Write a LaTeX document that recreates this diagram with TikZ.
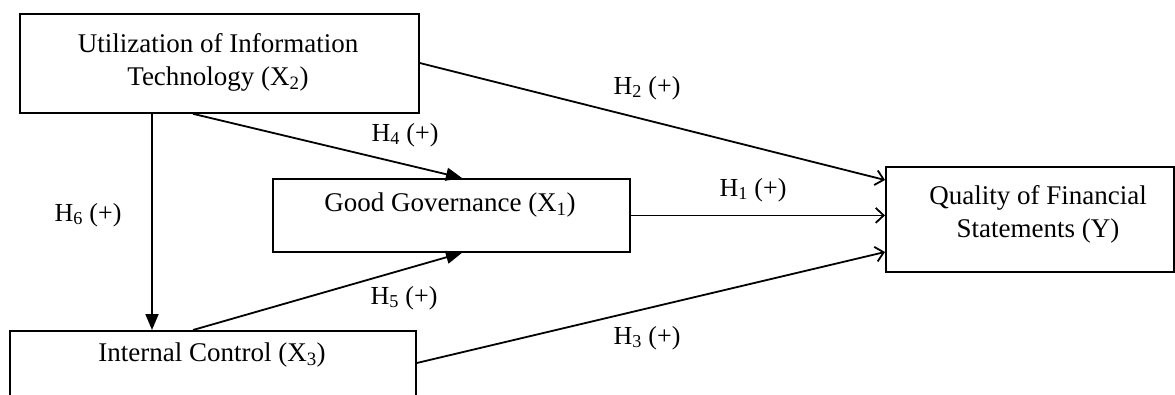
\documentclass[tikz,border=0pt]{standalone}
\usepackage{fontspec}
\setmainfont{Liberation Serif}
\usetikzlibrary{arrows.meta,calc}
\tikzset{
  box/.style={draw, line width=1.8pt, inner sep=0pt, anchor=north west, align=center,
    font=\fontsize{27}{33}\selectfont},
  txt/.style={inner sep=0pt, font=\fontsize{27}{33}\selectfont, align=center},
  hyp/.style={inner sep=0pt, font=\fontsize{26}{30}\selectfont},
  solidarrow/.style={line width=1.8pt, -{Triangle[length=16pt,width=13pt]}},
  openarrow/.style={line width=1.8pt, -{Straight Barb[length=8pt,width=15pt,line width=1.8pt]}}
}
\begin{document}
\begin{tikzpicture}[x=1pt,y=-1pt]
\useasboundingbox (0,0) rectangle (1175,394);
\clip (0,0) rectangle (1175,394);
\fill[white] (0,0) rectangle (1175,394);
% boxes
\node[box, minimum width=399pt, minimum height=99pt] (x2) at (19,13) {};
\node[txt] (x2t) at (218,62) {Utilization of Information\\Technology (X\textsubscript{2})};
\node[box, minimum width=357pt, minimum height=73pt] (x1) at (272,178) {};
\node[txt] (x1t) at (450,205) {Good Governance (X\textsubscript{1})};
\node[box, minimum width=288pt, minimum height=105pt] (y) at (885,166) {};
\node[txt] (yt) at (1038,214) {Quality of Financial\\Statements (Y)};
\node[box, minimum width=406pt, minimum height=120pt] (x3) at (9,330) {};
\node[txt] (x3t) at (212,355) {Internal Control (X\textsubscript{3})};
% connectors
\draw[solidarrow] ($(x2.south west)+(133,0)$) -- ($(x3.north west)+(143,0)$);
\draw[solidarrow] ($(x2.south west)+(174,0)$) -- ($(x1.north west)+(190,0)$);
\draw[solidarrow] ($(x3.north west)+(184,0)$) -- ($(x1.south west)+(190,0)$);
\draw[openarrow] ($(x2.north east)+(0,50)$) -- ($(y.north west)+(0,14)$);
\draw[openarrow] (x1.east) -- (x1.east -| y.west);
\draw[openarrow] ($(x3.north east)+(0,33)$) -- ($(y.north west)+(0,86)$);
% labels
\node[hyp] (h2) at (647,88) {H\textsubscript{2} (+)};
\node[hyp] (h4) at (405,135) {H\textsubscript{4} (+)};
\node[hyp] (h1) at (753,190) {H\textsubscript{1} (+)};
\node[hyp] (h6) at (88,215) {H\textsubscript{6} (+)};
\node[hyp] (h5) at (404,298) {H\textsubscript{5} (+)};
\node[hyp] (h3) at (647,338) {H\textsubscript{3} (+)};
\end{tikzpicture}
\end{document}
